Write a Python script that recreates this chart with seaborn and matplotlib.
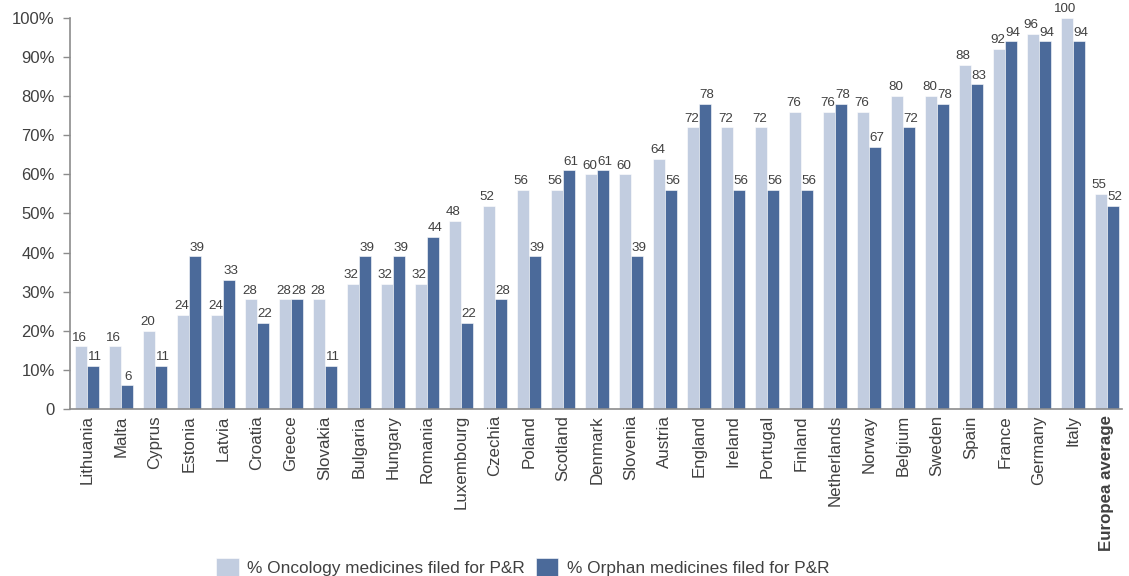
import matplotlib
matplotlib.use("Agg")
import matplotlib.pyplot as plt
import seaborn as sns
import pandas as pd

countries = ["Lithuania", "Malta", "Cyprus", "Estonia", "Latvia", "Croatia", "Greece",
             "Slovakia", "Bulgaria", "Hungary", "Romania", "Luxembourg", "Czechia", "Poland",
             "Scotland", "Denmark", "Slovenia", "Austria", "England", "Ireland", "Portugal",
             "Finland", "Netherlands", "Norway", "Belgium", "Sweden", "Spain", "France",
             "Germany", "Italy", "Europea average"]
oncology = [16, 16, 20, 24, 24, 28, 28, 28, 32, 32, 32, 48, 52, 56, 56, 60, 60, 64,
            72, 72, 72, 76, 76, 76, 80, 80, 88, 92, 96, 100, 55]
orphan = [11, 6, 11, 39, 33, 22, 28, 11, 39, 39, 44, 22, 28, 39, 61, 61, 39, 56,
          78, 56, 56, 56, 78, 67, 72, 78, 83, 94, 94, 94, 52]
series_names = ["% Oncology medicines filed for P&R", "% Orphan medicines filed for P&R"]
yticks = [0, 10, 20, 30, 40, 50, 60, 70, 80, 90, 100]
ytick_labels = ["0", "10%", "20%", "30%", "40%", "50%", "60%", "70%", "80%", "90%", "100%"]

light = "#C2CDE0"
dark = "#4B6A9A"
text_col = "#404040"
axis_col = "#8C8C8C"

df = pd.DataFrame({
    "country": countries * 2,
    "value": oncology + orphan,
    "series": [series_names[0]] * len(countries) + [series_names[1]] * len(countries),
})

sns.set_style("white")
plt.rcParams["font.family"] = ["Liberation Sans", "DejaVu Sans"]

fig = plt.figure(figsize=(11.29, 5.76), dpi=100)
ax = fig.add_axes([0.062, 0.29, 0.932, 0.679])

sns.barplot(data=df, x="country", y="value", hue="series", order=countries,
            hue_order=series_names, palette=[light, dark], saturation=1, width=0.7,
            edgecolor="white", linewidth=0.4, ax=ax, errorbar=None, legend=True)

# value labels above each bar, nudged apart so neighbouring pairs stay readable
for cont, vals, dx in zip(ax.containers, [oncology, orphan], [-1.2, 1.2]):
    texts = ax.bar_label(cont, labels=[str(v) for v in vals], padding=2,
                         fontsize=9.6, color=text_col)
    for t in texts:
        ox, oy = t.xyann
        t.xyann = (ox + dx, oy)

ax.set_ylim(0, 100)
ax.set_xlim(-0.5, len(countries) - 0.55)
ax.set_yticks(yticks)
ax.set_yticklabels(ytick_labels, fontsize=12, color=text_col)
ax.set_xticks(range(len(countries)))
ax.set_xticklabels(countries, rotation=90, fontsize=12.2, color=text_col)
ax.get_xticklabels()[-1].set_fontweight("bold")
ax.set_xlabel("")
ax.set_ylabel("")

for side in ["top", "right"]:
    ax.spines[side].set_visible(False)
for side in ["left", "bottom"]:
    ax.spines[side].set_color(axis_col)
    ax.spines[side].set_linewidth(1.2)
ax.tick_params(axis="y", left=True, length=5, width=1, color=axis_col, pad=6)
ax.tick_params(axis="x", bottom=False, pad=1)

handles, labels = ax.get_legend_handles_labels()
ax.get_legend().remove()
fig.legend(handles, labels, loc="lower center", bbox_to_anchor=(0.463, -0.028),
           ncol=2, frameon=False, fontsize=12.4, handlelength=1.3, handleheight=1.3,
           columnspacing=0.6, handletextpad=0.5, labelcolor=text_col)

fig.savefig("out.png", dpi=100)
